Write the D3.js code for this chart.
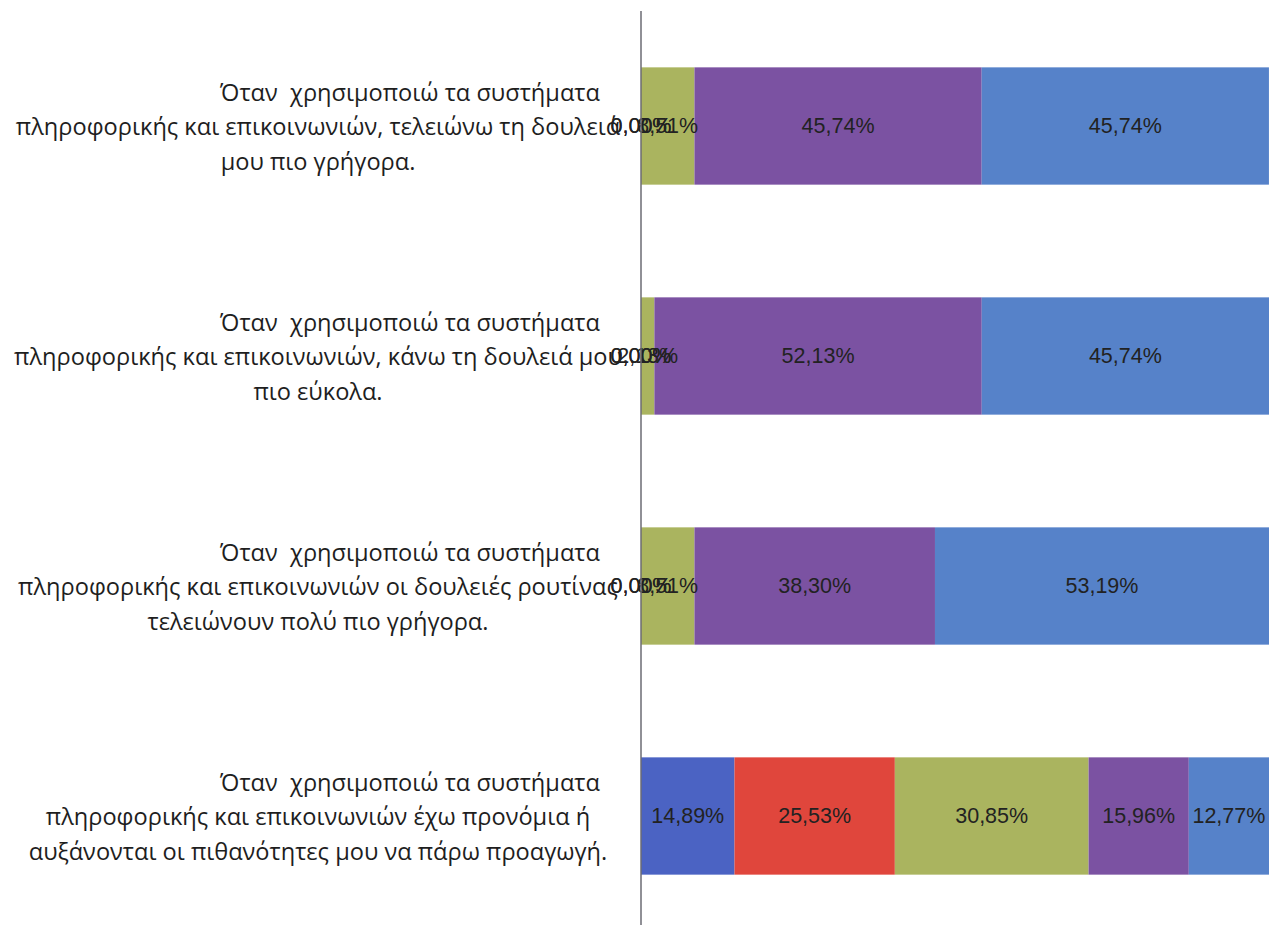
<!DOCTYPE html>
<html><head><meta charset="utf-8">
<script src="https://cdn.jsdelivr.net/npm/d3@7"></script>
<style>body{margin:0;background:#fff}svg{display:block}</style>
</head><body>
<svg id="c" width="1273" height="925"></svg>
<script>
const categories = [
  "Όταν  χρησιμοποιώ τα συστήματα\nπληροφορικής και επικοινωνιών, τελειώνω τη δουλειά\nμου πιο γρήγορα.",
  "Όταν  χρησιμοποιώ τα συστήματα\nπληροφορικής και επικοινωνιών, κάνω τη δουλειά μου\nπιο εύκολα.",
  "Όταν  χρησιμοποιώ τα συστήματα\nπληροφορικής και επικοινωνιών οι δουλειές ρουτίνας\nτελειώνουν πολύ πιο γρήγορα.",
  "Όταν  χρησιμοποιώ τα συστήματα\nπληροφορικής και επικοινωνιών έχω προνόμια ή\nαυξάνονται οι πιθανότητες μου να πάρω προαγωγή."
];
const seriesNames = ["s1","s2","s3","s4","s5"];
const s1 = [0.00, 0.00, 0.00, 14.89];
const s2 = [0.00, 0.00, 0.00, 25.53];
const s3 = [8.51, 2.13, 8.51, 30.85];
const s4 = [45.74, 52.13, 38.30, 15.96];
const s5 = [45.74, 45.74, 53.19, 12.77];
const colors = ["#4b63c3","#e0463c","#aab45f","#7b52a2","#5682c9"];

const svg = d3.select("#c");
const values = [s1,s2,s3,s4,s5];
const rows = categories.map((c,i)=>{const o={cat:c}; seriesNames.forEach((s,j)=>o[s]=values[j][i]); return o;});
const stack = d3.stack().keys(seriesNames)(rows);

const x = d3.scaleLinear().domain([0,100]).range([641,1269]);
const y = d3.scaleBand().domain(categories).range([11,931]).paddingInner(0.49).paddingOuter(0.245);

const fmt = v => v.toFixed(2).replace(".", ",") + "%";

stack.forEach((layer,j)=>{
  svg.append("g").selectAll("rect").data(layer).join("rect")
    .attr("x", d=>x(d[0])).attr("y", d=>y(d.data.cat))
    .attr("width", d=>x(d[1])-x(d[0])).attr("height", y.bandwidth())
    .attr("fill", colors[j]);
});

// category labels
const catG = svg.append("g");
categories.forEach(c=>{
  const lines = c.split("\n");
  const cy = y(c)+y.bandwidth()/2;
  const t = catG.append("text").attr("text-anchor","middle")
    .style("white-space","pre")
    .attr("font-family","Open Sans, sans-serif").attr("font-size",23.6).attr("fill","#1e1e1e");
  lines.forEach((l,k)=>{
    t.append("tspan").attr("x", k===0 ? 410 : 318).attr("y", cy + (k-(lines.length-1)/2)*34.5)
      .attr("dominant-baseline","central").text(l);
  });
});

stack.forEach((layer,j)=>{
  svg.append("g").selectAll("text").data(layer).join("text")
    .attr("x", d=>(x(d[0])+x(d[1]))/2)
    .attr("y", d=>y(d.data.cat)+y.bandwidth()/2)
    .attr("text-anchor","middle").attr("dominant-baseline","central")
    .attr("font-family","Liberation Sans, sans-serif").attr("font-size",21.5)
    .attr("fill","#222")
    .text(d=>fmt(d[1]-d[0]));
});

// axis line
svg.append("line").attr("x1",641).attr("x2",641).attr("y1",11).attr("y2",925)
  .attr("stroke","#6b6b73").attr("stroke-width",1.5);
</script>
</body></html>
